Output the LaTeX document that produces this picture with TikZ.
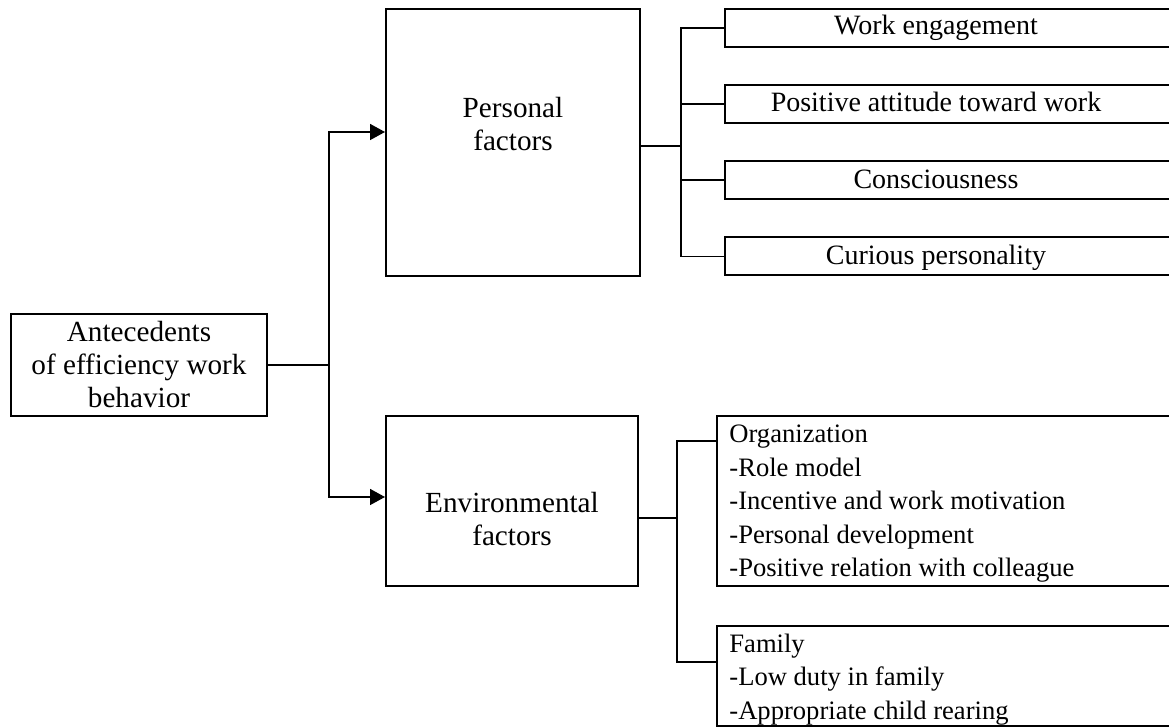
\documentclass[tikz,border=0pt]{standalone}
\usepackage{fontspec}
\setmainfont{Liberation Serif}
\usetikzlibrary{arrows.meta}

\tikzset{
  box/.style={rectangle, draw, line width=1pt, inner sep=0pt},
  conn/.style={line width=0.8pt},
  arr/.style={conn, -{Triangle[length=7.5pt, width=8pt]}},
  itemtxt/.style={font=\fontsize{14}{16.75}\selectfont, anchor=base},
  listtxt/.style={font=\fontsize{13.3}{16.75}\selectfont, anchor=north west, inner sep=0pt, align=left},
}

\begin{document}
\begin{tikzpicture}[x=0.5pt, y=-0.5pt, every node/.style={font=\fontsize{14.6}{16.5}\selectfont}]
  \path[use as bounding box, clip] (0, 0) rectangle (1169, 727);

  \node (ante) [box, minimum width=128pt, minimum height=51pt, align=center] at (139, 365) {Antecedents\\of efficiency work\\behavior};

  \node (pers) [box, minimum width=127pt, minimum height=133.5pt] at (513, 142.5) {};
  \node (perslbl) [align=center] at (513, 124.5) {Personal\\factors};
  \node (env) [box, minimum width=126pt, minimum height=85pt] at (512, 501) {};
  \node (envlbl) [align=center] at (512, 519.5) {Environmental\\factors};

  \node (engage) [box, minimum width=237.5pt, minimum height=19pt] at (962.5, 28) {};
  \node (attitude) [box, minimum width=237.5pt, minimum height=19pt] at (962.5, 104) {};
  \node (conscious) [box, minimum width=237.5pt, minimum height=19pt] at (962.5, 180) {};
  \node (curious) [box, minimum width=237.5pt, minimum height=19pt] at (962.5, 256.5) {};
  \node (engagelbl) [itemtxt] at (936, 35) {Work engagement};
  \node (attitudelbl) [itemtxt] at (936, 112) {Positive attitude toward work};
  \node (consciouslbl) [itemtxt] at (936, 189) {Consciousness};
  \node (curiouslbl) [itemtxt] at (936, 265) {Curious personality};

  \node (org) [box, minimum width=241.5pt, minimum height=85pt] at (958.5, 501) {};
  \node (fam) [box, minimum width=241.5pt, minimum height=50pt] at (958.5, 676) {};
  \node (orglbl) [listtxt] at (729, 424.5) {Organization\\-Role model\\-Incentive and work motivation\\-Personal development\\-Positive relation with colleague};
  \node (famlbl) [listtxt] at (729, 633.5) {Family\\-Low duty in family\\-Appropriate child rearing};

  % trunk from the antecedents
  \coordinate (split) at (329, 365);
  \draw[conn] (ante.east) -- (split);
  \draw[arr] (split) |- ([yshift=5.25pt]pers.west);
  \draw[arr] (split) |- ([yshift=2pt]env.west);

  % personal branches
  \coordinate (pjoin) at (681, 146);
  \draw[conn] (pers.east |- pjoin) -- (pjoin);
  \foreach \n in {engage, attitude, conscious, curious}
    \draw[conn] (pjoin) |- (\n.west);

  % environmental branches
  \coordinate (ejoin) at (677, 518);
  \draw[conn] (env.east |- ejoin) -- (ejoin);
  \draw[conn] (ejoin) |- ([yshift=-13pt]org.north west);
  \draw[conn] (ejoin) |- ([yshift=-18.5pt]fam.north west);
\end{tikzpicture}
\end{document}
